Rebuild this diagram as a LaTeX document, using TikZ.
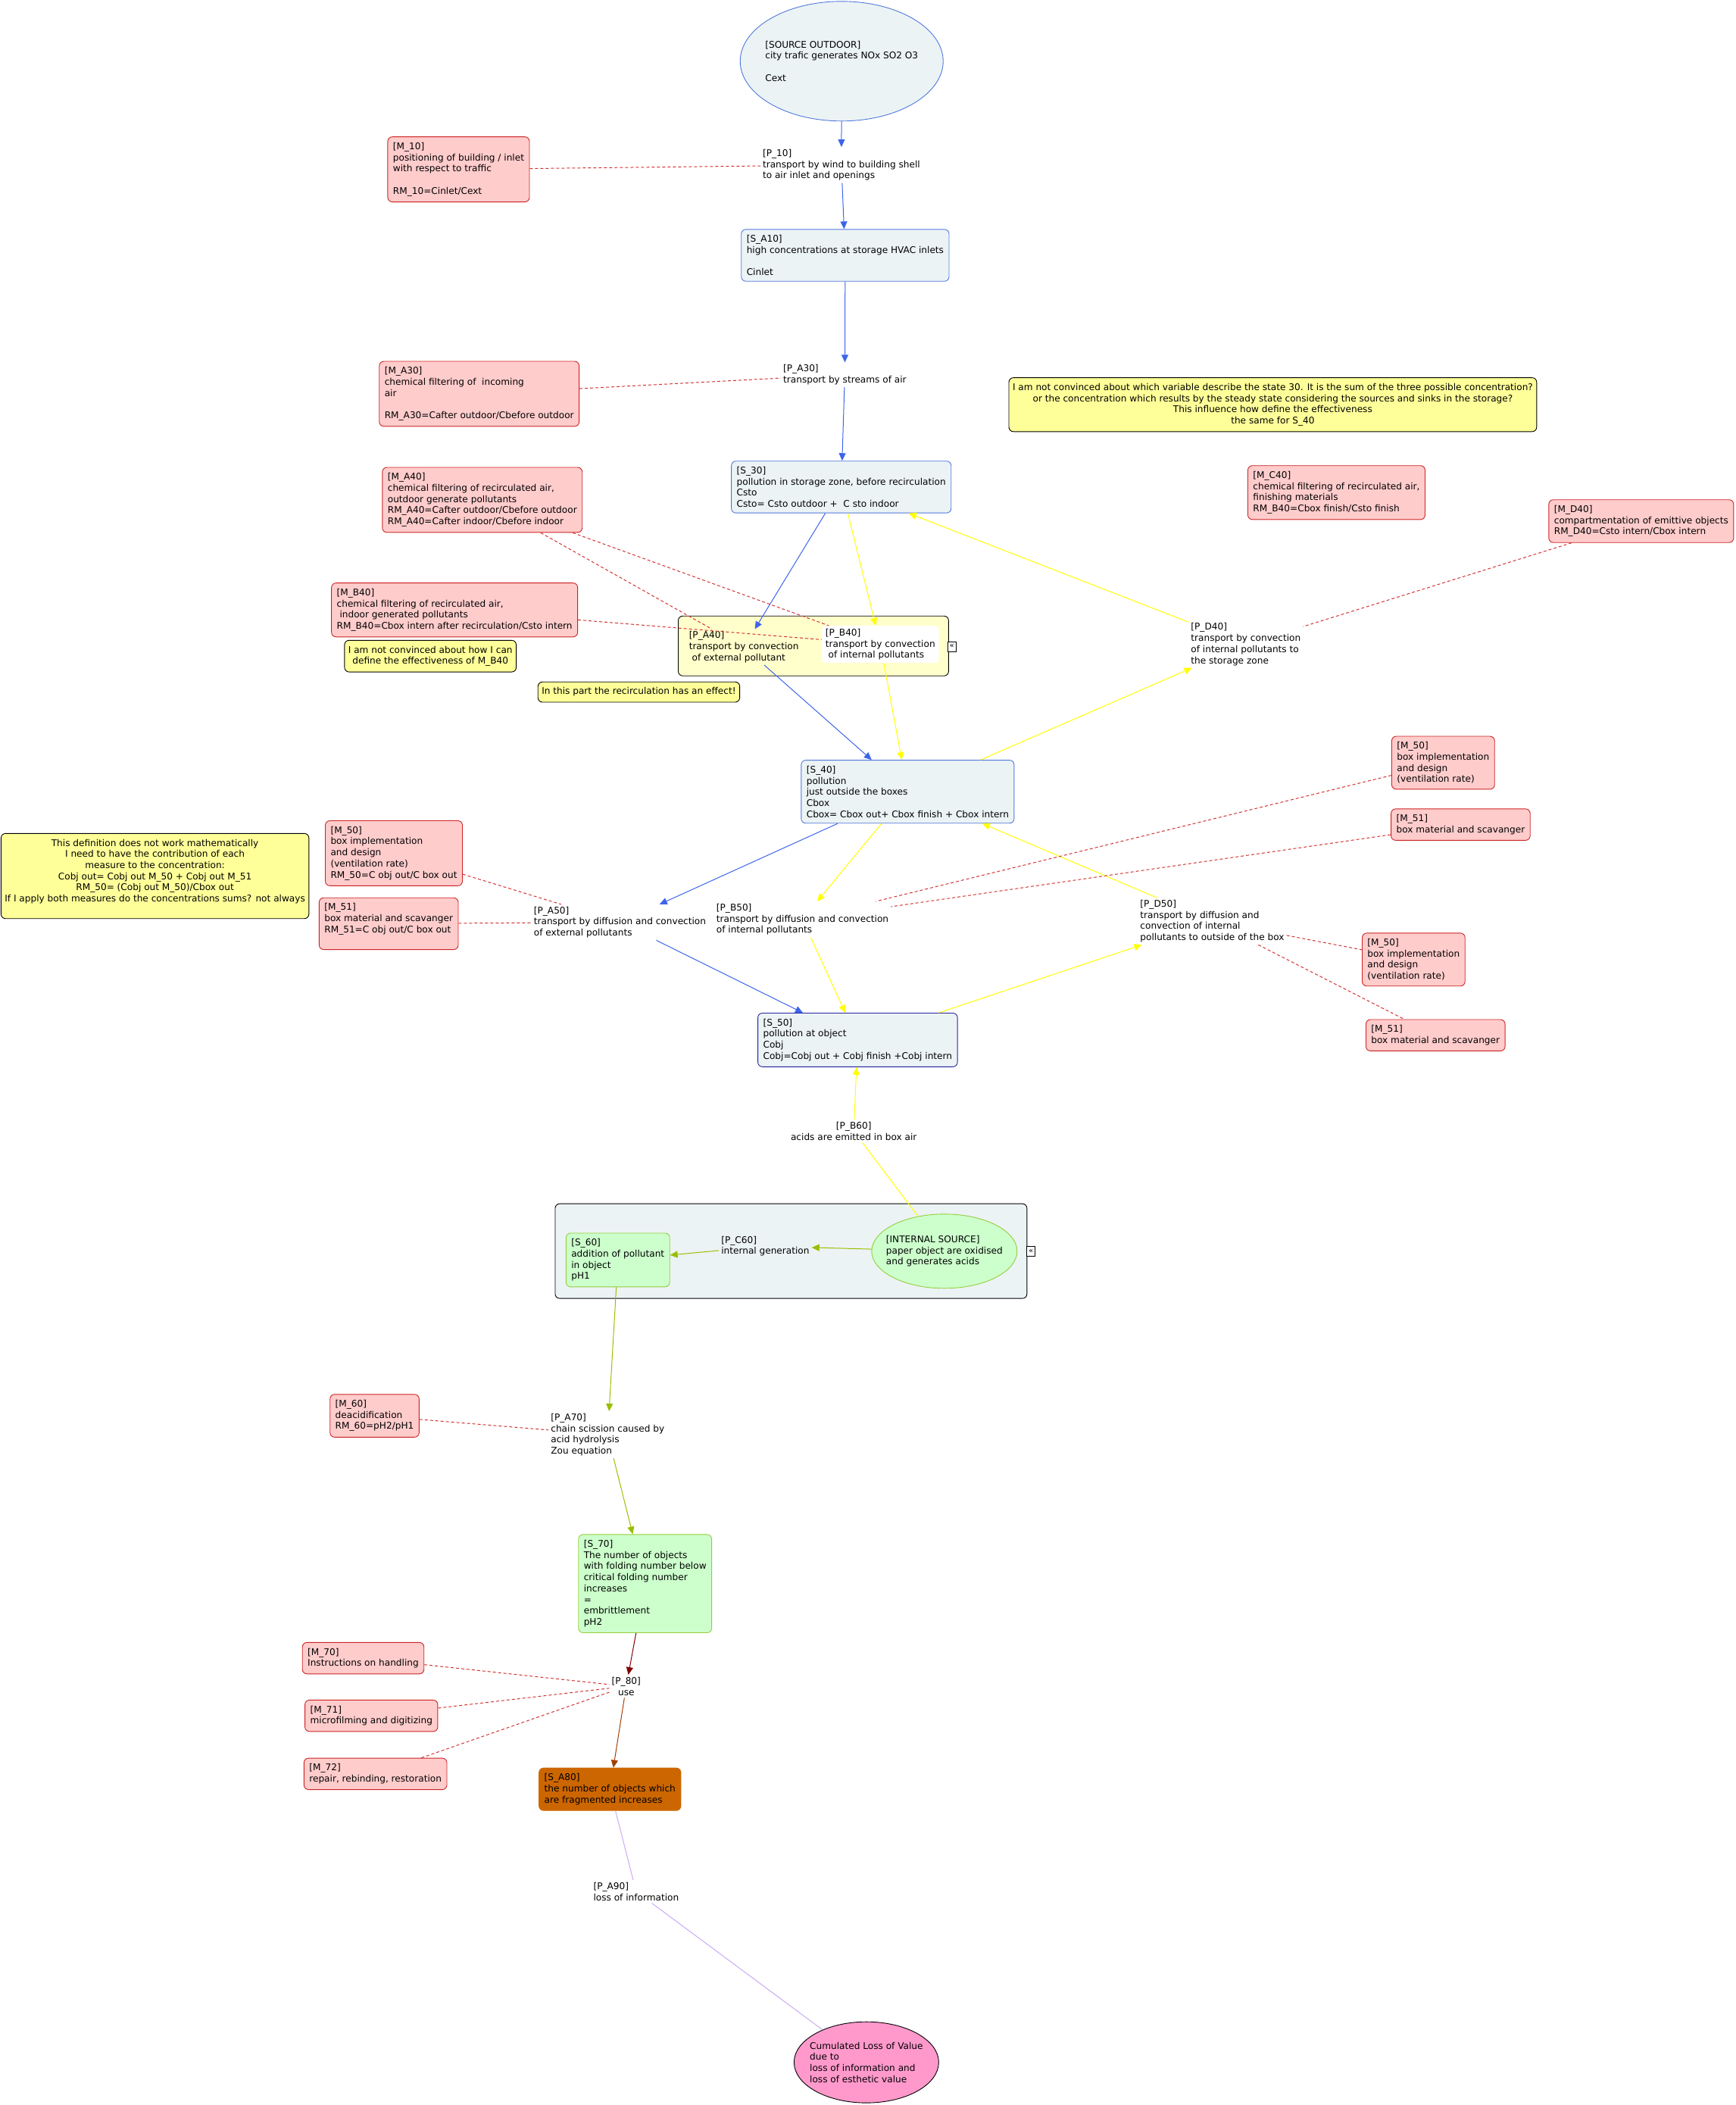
\documentclass[tikz,border=0pt]{standalone}
\usepackage{fontspec}
\setmainfont{DejaVu Sans}
\usepackage{tikz}
\usetikzlibrary{arrows.meta}
\usetikzlibrary{shapes.geometric}

\definecolor{mpink}{RGB}{255,204,204}
\definecolor{mred}{RGB}{204,34,34}
\definecolor{sgray}{RGB}{236,243,245}
\definecolor{sblue}{RGB}{80,120,220}
\definecolor{snavy}{RGB}{35,35,160}
\definecolor{notey}{RGB}{255,255,153}
\definecolor{grpy}{RGB}{255,255,204}
\definecolor{sgreen}{RGB}{204,255,204}
\definecolor{gborder}{RGB}{150,205,60}
\definecolor{sorange}{RGB}{204,102,0}
\definecolor{cpink}{RGB}{255,153,204}
\definecolor{ablue}{RGB}{60,100,235}
\definecolor{ayellow}{RGB}{255,255,0}
\definecolor{aolive}{RGB}{153,190,0}
\definecolor{adred}{RGB}{128,0,0}
\definecolor{abrown}{RGB}{160,64,0}
\definecolor{alilac}{RGB}{200,170,245}
\definecolor{dred}{RGB}{210,50,50}

\tikzset{
  measure/.style={draw=mred, fill=mpink, rounded corners=6pt, align=left, anchor=north west, inner xsep=7pt, inner ysep=7.5pt, line width=0.9pt},
  state/.style={draw=sblue, fill=sgray, rounded corners=6pt, align=left, anchor=north west, inner xsep=7pt, inner ysep=7.5pt, line width=0.9pt},
  gstate/.style={state, draw=gborder, fill=sgreen},
  note/.style={draw=black, fill=notey, rounded corners=6pt, align=center, anchor=north west, inner xsep=5pt, inner ysep=7.5pt, line width=0.9pt},
  phrase/.style={align=left, anchor=north west, inner sep=3pt},
  group/.style={draw=black, rounded corners=6pt, anchor=north west, line width=0.9pt},
  fold/.style={draw=black, fill=white, inner sep=0pt, minimum width=11pt, minimum height=13pt, font=\fontsize{10}{10}\selectfont},
  oval/.style={ellipse, inner sep=0pt, line width=0.9pt},
  flow/.style={-{Triangle[length=10pt,width=9pt]}, line width=1pt},
  link/.style={dred, dash pattern=on 4pt off 3pt, line width=1pt},
}

\begin{document}
\begin{tikzpicture}[x=1.7726pt, y=-1.7726pt, font=\fontsize{12.12}{14.7}\selectfont]
\useasboundingbox (0,0) rectangle (1293,1568);

\node[group, fill=grpy, minimum width=357pt, minimum height=79pt] (grpa) at (505,458.6) {};
\node[group, fill=sgray, minimum width=623pt, minimum height=125pt] (grpb) at (413.3,896.4) {};
\node[fold] (folda) at (709,481.5) {«};
\node[fold] (foldb) at (768,932) {«};

\node[oval, draw=sblue, fill=sgray, minimum width=268pt, minimum height=158pt,
  label={[align=left]center:{[SOURCE OUTDOOR]\\city trafic generates NOx SO2 O3\\[14.7pt]Cext}}] (srcout) at (627,45.6) {};
\node[phrase] (p10) at (566.4,109.5) {[P\_10]\\transport by wind to building shell\\to air inlet and openings};
\node[measure] (m10) at (288.6,101.7) {[M\_10]\\positioning of building / inlet\\with respect to traffic\\[14.7pt]RM\_10=Cinlet/Cext};
\node[state] (sa10) at (552,170.6) {[S\_A10]\\high concentrations at storage HVAC inlets\\[14.7pt]Cinlet};
\node[phrase] (pa30) at (581.7,269.9) {[P\_A30]\\transport by streams of air};
\node[measure] (ma30) at (282.3,268.9) {[M\_A30]\\chemical filtering of \ incoming\\air\\[14.7pt]RM\_A30=Cafter outdoor/Cbefore outdoor};
\node[state] (s30) at (544.6,343.2) {[S\_30]\\pollution in storage zone, before recirculation\\Csto\\Csto= Csto outdoor + \ C sto indoor};
\node[note] (note30) at (751.3,281.1) {I am not convinced about which variable describe the state 30. It is the sum of the three possible concentration?\\or the concentration which results by the steady state considering the sources and sinks in the storage?\\This influence how define the effectiveness\\the same for S\_40};
\node[measure] (mc40) at (929.3,346.6) {[M\_C40]\\chemical filtering of recirculated air,\\finishing materials\\RM\_B40=Cbox finish/Csto finish};
\node[measure] (md40) at (1153.5,372) {[M\_D40]\\compartmentation of emittive objects\\RM\_D40=Csto intern/Cbox intern};
\node[measure] (ma40) at (284.6,347.9) {[M\_A40]\\chemical filtering of recirculated air,\\outdoor generate pollutants\\RM\_A40=Cafter outdoor/Cbefore outdoor\\RM\_A40=Cafter indoor/Cbefore indoor};
\node[measure] (mb40) at (246.7,434) {[M\_B40]\\chemical filtering of recirculated air,\\\ indoor generated pollutants\\RM\_B40=Cbox intern after recirculation/Csto intern};
\node[note] (noteb40) at (256.4,476.7) {I am not convinced about how I can\\define the effectiveness of M\_B40};
\node[note] (noterec) at (400.5,507.7) {In this part the recirculation has an effect!};
\node[phrase] (pa40) at (511.5,468.6) {[P\_A40]\\transport by convection\\\ of external pollutant};
\node[phrase, fill=white, rounded corners=6pt, inner xsep=5pt, inner ysep=4pt] (pb40) at (612,466) {[P\_B40]\\transport by convection\\\ of internal pollutants};
\node[phrase] (pd40) at (885.4,462.4) {[P\_D40]\\transport by convection\\of internal pollutants to\\the storage zone};
\node[state] (s40) at (596.6,566) {[S\_40]\\pollution\\just outside the boxes\\Cbox\\Cbox= Cbox out+ Cbox finish + Cbox intern};
\node[measure] (m50r) at (1036.5,548.2) {[M\_50]\\box implementation\\and design\\(ventilation rate)};
\node[measure] (m51r) at (1036,602.3) {[M\_51]\\box material and scavanger};
\node[note] (notemath) at (0.5,620.6) {This definition does not work mathematically\\I need to have the contribution of each\\measure to the concentration:\\Cobj out= Cobj out M\_50 + Cobj out M\_51\\RM\_50= (Cobj out M\_50)/Cbox out\\If I apply both measures do the concentrations sums? not always\\ \mbox{}};
\node[measure] (m50l) at (242.1,611.1) {[M\_50]\\box implementation\\and design\\(ventilation rate)\\RM\_50=C obj out/C box out};
\node[measure] (m51l) at (237.5,668.5) {[M\_51]\\box material and scavanger\\RM\_51=C obj out/C box out\\ \mbox{}};
\node[phrase] (pa50) at (395.9,673.6) {[P\_A50]\\transport by diffusion and convection\\of external pollutants};
\node[phrase] (pb50) at (531.9,671.4) {[P\_B50]\\transport by diffusion and convection\\of internal pollutants};
\node[phrase] (pd50) at (847.6,668.7) {[P\_D50]\\transport by diffusion and\\convection of internal\\pollutants to outside of the box};
\node[measure] (m50b) at (1014.5,694.8) {[M\_50]\\box implementation\\and design\\(ventilation rate)};
\node[measure] (m51b) at (1017.3,759.2) {[M\_51]\\box material and scavanger};
\node[state, draw=snavy] (s50) at (564.3,754.4) {[S\_50]\\pollution at object\\Cobj\\Cobj=Cobj out + Cobj finish +Cobj intern};
\node[phrase, anchor=north, align=center] (pb60) at (636,834) {[P\_B60]\\acids are emitted in box air};
\node[gstate] (s60) at (421.4,918.3) {[S\_60]\\addition of pollutant\\in object\\pH1};
\node[phrase] (pc60) at (535.5,919) {[P\_C60]\\internal generation};
\node[oval, draw=gborder, fill=sgreen, minimum width=192pt, minimum height=98pt,
  label={[align=left]center:{[INTERNAL SOURCE]\\paper object are oxidised\\and generates acids}}] (intsrc) at (703.5,932) {};
\node[measure] (m60) at (245.6,1038.4) {[M\_60]\\deacidification\\RM\_60=pH2/pH1};
\node[phrase] (pa70) at (408.6,1051.2) {[P\_A70]\\chain scission caused by\\acid hydrolysis\\Zou equation};
\node[gstate] (s70) at (430.7,1142.8) {[S\_70]\\The number of objects\\with folding number below\\critical folding number\\increases\\=\\embrittlement\\pH2};
\node[phrase, anchor=north, align=center] (p80) at (466.5,1247.5) {[P\_80]\\use};
\node[measure] (m70) at (225,1223.2) {[M\_70]\\Instructions on handling};
\node[measure] (m71) at (226.9,1266.1) {[M\_71]\\microfilming and digitizing};
\node[measure] (m72) at (226.2,1309.4) {[M\_72]\\repair, rebinding, restoration};
\node[state, draw=sorange, fill=sorange] (sa80) at (401.3,1316.7) {[S\_A80]\\the number of objects which\\are fragmented increases};
\node[phrase] (pa90) at (440.3,1400.4) {[P\_A90]\\loss of information};
\node[oval, draw=black, fill=cpink, minimum width=191pt, minimum height=107pt,
  label={[align=left]center:{Cumulated Loss of Value\\due to\\loss of information and\\loss of esthetic value}}] (cumloss) at (645.4,1536.2) {};

\draw[flow, ablue] (srcout) -- (p10);
\draw[flow, ablue] (p10) -- (sa10);
\draw[flow, ablue] (sa10) -- (pa30);
\draw[flow, ablue] (pa30) -- (s30);
\draw[flow, ablue] (s30) -- (pa40);
\draw[flow, ablue] (pa40) -- (s40);
\draw[flow, ablue] (s40) -- (pa50);
\draw[flow, ablue] (pa50) -- (s50);
\draw[flow, ayellow] (s30) -- (pb40);
\draw[flow, ayellow] (pb40) -- (s40);
\draw[flow, ayellow] (pd40) -- (s30);
\draw[flow, ayellow] (s40) -- (pd40);
\draw[flow, ayellow] (s40) -- (pb50);
\draw[flow, ayellow] (pb50) -- (s50);
\draw[flow, ayellow] (pd50) -- (s40);
\draw[flow, ayellow] (s50) -- (pd50);
\draw[flow, ayellow] (pb60) -- (s50);
\draw[ayellow, line width=1pt] (intsrc) -- (pb60);
\draw[flow, aolive] (intsrc) -- (pc60);
\draw[flow, aolive] (pc60) -- (s60);
\draw[flow, aolive] (s60) -- (pa70);
\draw[flow, aolive] (pa70) -- (s70);
\draw[flow, adred] (s70) -- (p80);
\draw[flow, abrown] (p80) -- (sa80);
\draw[alilac, line width=1pt] (sa80) -- (pa90);
\draw[alilac, line width=1pt] (pa90) -- (cumloss);

\draw[link] (m10) -- (p10);
\draw[link] (ma30) -- (pa30);
\draw[link] (ma40) -- (pa40);
\draw[link] (ma40) -- (pb40);
\draw[link] (mb40) -- (pb40);
\draw[link] (md40) -- (pd40);
\draw[link] (m50r) -- (pb50);
\draw[link] (m51r) -- (pb50);
\draw[link] (m50l) -- (pa50);
\draw[link] (m51l) -- (pa50);
\draw[link] (pd50) -- (m50b);
\draw[link] (pd50) -- (m51b);
\draw[link] (m60) -- (pa70);
\draw[link] (m70) -- (p80);
\draw[link] (m71) -- (p80);
\draw[link] (m72) -- (p80);
\end{tikzpicture}
\end{document}
